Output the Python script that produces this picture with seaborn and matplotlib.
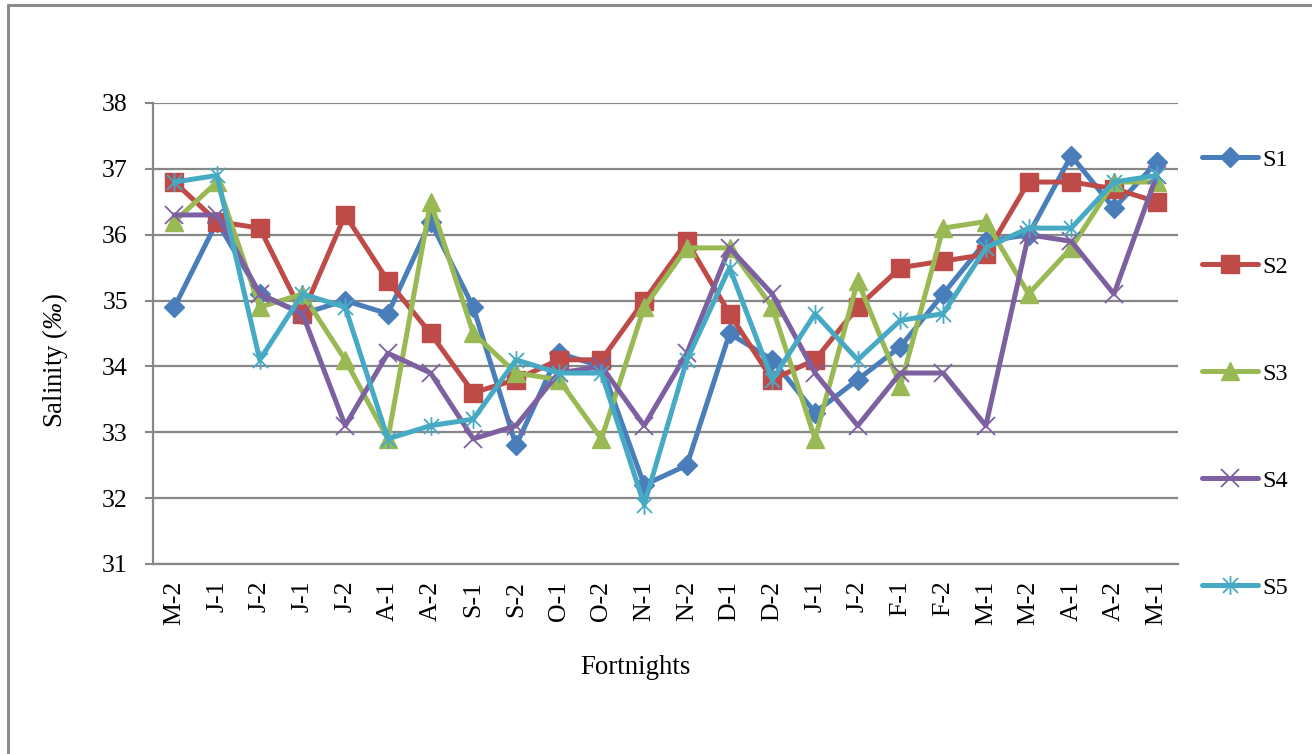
import numpy as np
import pandas as pd
import matplotlib
matplotlib.use("Agg")
import matplotlib.pyplot as plt
from matplotlib.path import Path
from matplotlib.lines import Line2D
import seaborn as sns

# Fortnight labels along the x axis
fortnights = ["M-2", "J-1", "J-2", "J-1", "J-2", "A-1", "A-2", "S-1", "S-2", "O-1",
              "O-2", "N-1", "N-2", "D-1", "D-2", "J-1", "J-2", "F-1", "F-2", "M-1",
              "M-2", "A-1", "A-2", "M-1"]

# Salinity (‰) per station
s1 = [34.9, 36.2, 35.1, 34.8, 35.0, 34.8, 36.2, 34.9, 32.8, 34.2, 34.0, 32.2,
      32.5, 34.5, 34.1, 33.3, 33.8, 34.3, 35.1, 35.9, 36.0, 37.2, 36.4, 37.1]
s2 = [36.8, 36.2, 36.1, 34.8, 36.3, 35.3, 34.5, 33.6, 33.8, 34.1, 34.1, 35.0,
      35.9, 34.8, 33.8, 34.1, 34.9, 35.5, 35.6, 35.7, 36.8, 36.8, 36.7, 36.5]
s3 = [36.2, 36.8, 34.9, 35.1, 34.1, 32.9, 36.5, 34.5, 33.9, 33.8, 32.9, 34.9,
      35.8, 35.8, 34.9, 32.9, 35.3, 33.7, 36.1, 36.2, 35.1, 35.8, 36.8, 36.8]
s4 = [36.3, 36.3, 35.1, 34.8, 33.1, 34.2, 33.9, 32.9, 33.1, 33.9, 34.0, 33.1,
      34.2, 35.8, 35.1, 33.9, 33.1, 33.9, 33.9, 33.1, 36.0, 35.9, 35.1, 36.9]
s5 = [36.8, 36.9, 34.1, 35.1, 34.9, 32.9, 33.1, 33.2, 34.1, 33.9, 33.9, 31.9,
      34.1, 35.5, 33.8, 34.8, 34.1, 34.7, 34.8, 35.8, 36.1, 36.1, 36.8, 36.9]

stations = ["S1", "S2", "S3", "S4", "S5"]
series = [s1, s2, s3, s4, s5]
colors = ["#4A7EBB", "#BE4B48", "#98B954", "#7D60A0", "#46AAC5"]

# Star marker: an "x" crossed by a vertical bar
star = Path([(-1, -1), (1, 1), (-1, 1), (1, -1), (0, -1.25), (0, 1.25)],
            [Path.MOVETO, Path.LINETO, Path.MOVETO, Path.LINETO, Path.MOVETO, Path.LINETO])
marker_styles = [
    dict(marker="D", markersize=10, mfc=colors[0], mec=colors[0], mew=1),
    dict(marker="s", markersize=12.5, mfc=colors[1], mec=colors[1], mew=1),
    dict(marker="^", markersize=13, mfc=colors[2], mec=colors[2], mew=1),
    dict(marker="x", markersize=13, mfc="none", mec=colors[3], mew=1.3),
    dict(marker=star, markersize=13.5, mfc="none", mec=colors[4], mew=1.3),
]

df = pd.DataFrame({
    "pos": np.tile(np.arange(len(fortnights)), len(stations)),
    "salinity": np.concatenate(series),
    "station": np.repeat(stations, len(fortnights)),
})

sns.set_style("white")
plt.rcParams["font.family"] = ["Liberation Serif", "DejaVu Serif"]
plt.rcParams["text.color"] = "black"
plt.rcParams["axes.labelcolor"] = "black"
# The per-mille sign in the y label is set in italic
plt.rcParams["mathtext.fontset"] = "custom"
plt.rcParams["mathtext.rm"] = "Liberation Serif:italic"
plt.rcParams["mathtext.it"] = "Liberation Serif:italic"

fig = plt.figure(figsize=(13.12, 7.54), dpi=100)
ax = fig.add_axes([0.1166, 0.252, 0.7813, 0.6114])

grid_col = "#878787"
for name, col, mk in zip(stations, colors, marker_styles):
    sub = df[df["station"] == name]
    sns.lineplot(data=sub, x="pos", y="salinity", ax=ax, color=col, linewidth=3.6,
                 label=name, estimator=None, sort=False, zorder=3, **mk)

ax.set_xlim(-0.5, len(fortnights) - 0.5)
ax.set_ylim(31, 38)
ax.set_yticks(range(31, 39))
ax.set_xticks(range(len(fortnights)))
ax.set_xticklabels(fortnights, rotation=90, fontsize=18.5)
ax.tick_params(axis="y", labelsize=18.5, length=6, width=1.5, color=grid_col,
               labelcolor="black", direction="out", pad=12, left=True)
ax.tick_params(axis="x", length=0, pad=12, labelcolor="black")
ax.yaxis.grid(True, color=grid_col, linewidth=1.6)
ax.xaxis.grid(False)
ax.set_axisbelow(True)
for side in ["top", "right"]:
    ax.spines[side].set_visible(False)
for side in ["left", "bottom"]:
    ax.spines[side].set_color(grid_col)
    ax.spines[side].set_linewidth(1.6)

ax.set_xlabel("Fortnights", fontsize=19.3)
ax.set_ylabel(r"Salinity ($‰$)", fontsize=19.3)
ax.xaxis.set_label_coords(0.471, -0.198)
ax.yaxis.set_label_coords(-0.081, 0.4425)

ax.get_legend().remove()
handles, labels = ax.get_legend_handles_labels()
fig.legend(handles, labels, loc="upper left", bbox_to_anchor=(0.916, 0.803),
           frameon=False, fontsize=17.5, handlelength=2.3, handletextpad=0.2,
           labelspacing=3.5, borderpad=0, borderaxespad=0)

# Chart-area frame along the top and left edges
fig.add_artist(Line2D([8 / 1312, 1], [1 - 5 / 754] * 2, color="#8c8c8c", linewidth=2.2,
                      transform=fig.transFigure))
fig.add_artist(Line2D([8 / 1312] * 2, [0, 1 - 5 / 754], color="#8c8c8c", linewidth=2.2,
                      transform=fig.transFigure))

fig.savefig("out.png", dpi=100)
